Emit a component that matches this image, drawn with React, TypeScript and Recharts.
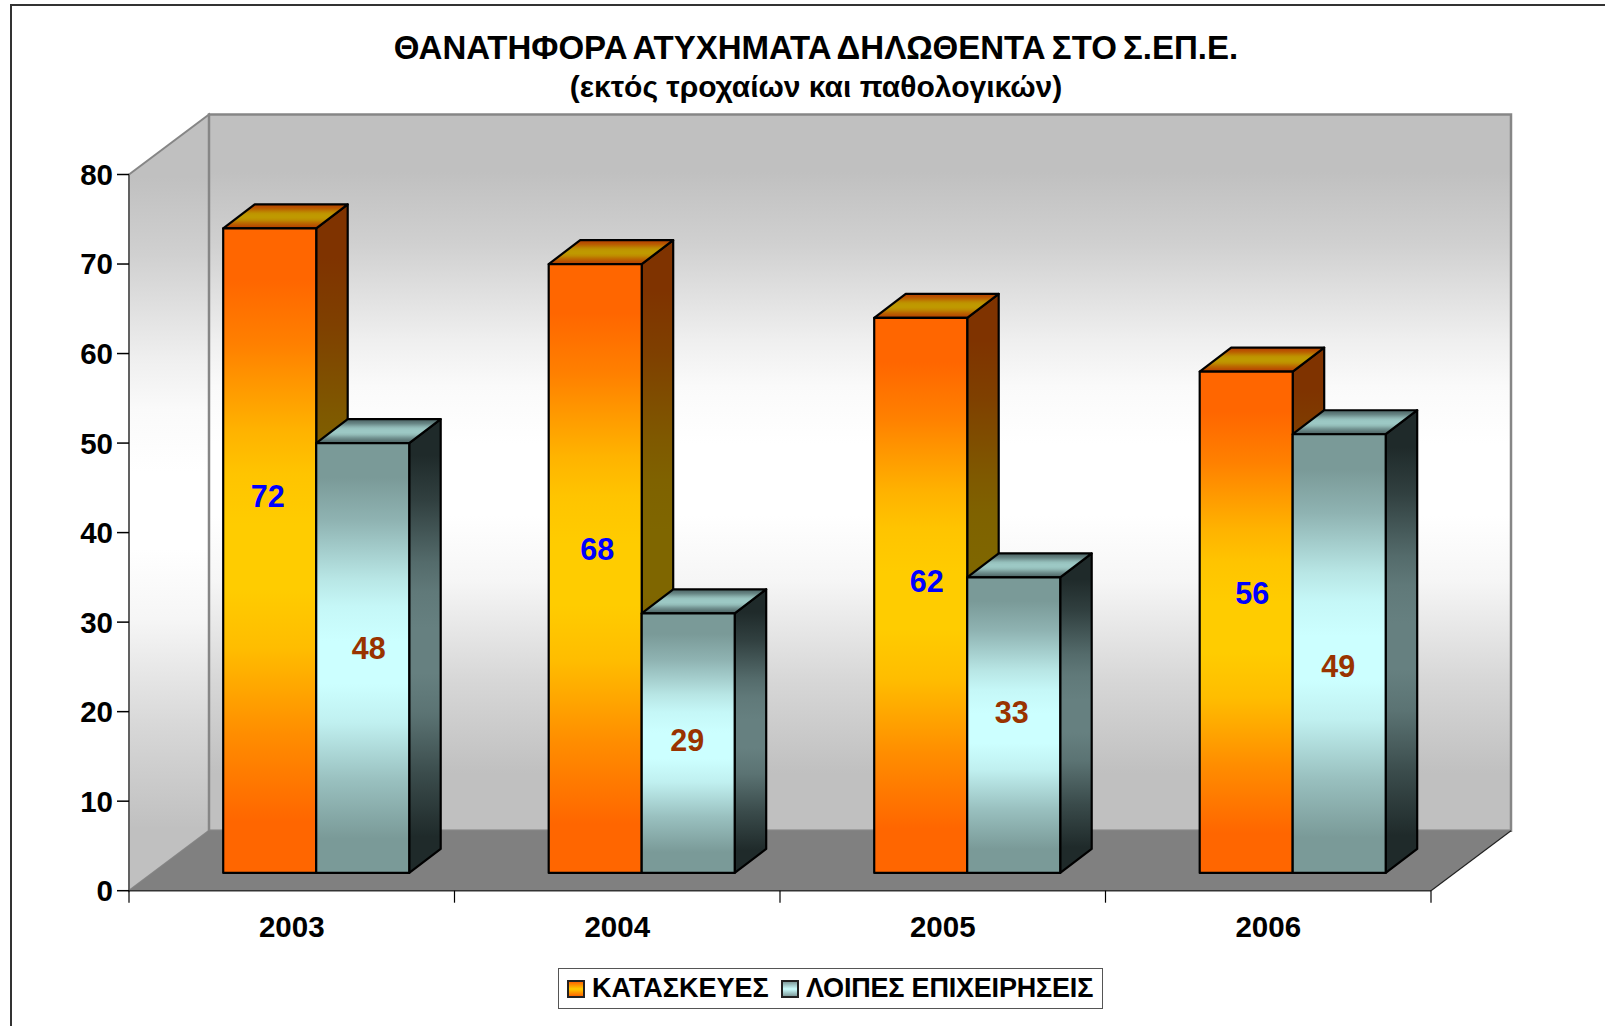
import { BarChart, Bar, XAxis, YAxis, Legend, LabelList, ReferenceArea } from "recharts";

const YEARS = ["2003", "2004", "2005", "2006"];
const CONSTRUCTION = [72, 68, 62, 56];
const OTHER_BUSINESS = [48, 29, 33, 49];
const Y_TICKS = [0, 10, 20, 30, 40, 50, 60, 70, 80];

const CONSTRUCTION_NAME = "ΚΑΤΑΣΚΕΥΕΣ";
const OTHER_NAME = "ΛΟΙΠΕΣ ΕΠΙΧΕΙΡΗΣΕΙΣ";
const TITLE = "ΘΑΝΑΤΗΦΟΡΑ ΑΤΥΧΗΜΑΤΑ ΔΗΛΩΘΕΝΤΑ ΣΤΟ Σ.ΕΠ.Ε.";
const SUBTITLE = "(εκτός τροχαίων και παθολογικών)";

const chartData = YEARS.map((year, i) => ({
  year,
  construction: CONSTRUCTION[i],
  other: OTHER_BUSINESS[i],
}));

const FONT = '"Liberation Sans", Arial, sans-serif';
const WIDTH = 1605;
const HEIGHT = 1026;
const PLOT = { left: 129, right: 1431, top: 174.5, bottom: 890.7 };
const X_AXIS_HEIGHT = 60;
const LEGEND_HEIGHT = 41;

// fake 3d: how far the walls and the boxes go back
const WALL_DX = 80;
const WALL_DY = 60;
const BOX_DX = 31.5;
const BOX_DY = 24;
// front of the boxes sits a bit inside the floor
const BAR_SHIFT_X = 24.2;
const BAR_SHIFT_Y = 17.8;

// the value labels were moved by hand in the original, offsets from the box centre
const LABEL_NUDGE_A = [[-2, -55], [2, -20], [6, -14], [6, -29]];
const LABEL_NUDGE_B = [[6, -10], [-1, -3], [-2, -13], [-1, 12]];

// gradient shape: [offset, how far towards the mid colour]
const GRADIENT_SHAPE = [
  [0, 0], [0.08, 0], [0.18, 0.25], [0.315, 0.75], [0.38, 0.92], [0.46, 1],
  [0.56, 1], [0.65, 0.85], [0.785, 0.38], [0.92, 0], [1, 0],
];

function mixHex(a: string, b: string, t: number) {
  const out = [1, 3, 5].map((p) => {
    const ca = parseInt(a.slice(p, p + 2), 16);
    const cb = parseInt(b.slice(p, p + 2), 16);
    return Math.round(ca + (cb - ca) * t);
  });
  return `rgb(${out.join(",")})`;
}

function Walls({ x, y, width, height }: any) {
  const right = x + width;
  const bottom = y + height;
  return (
    <g>
      <polygon
        points={`${x},${y} ${x + WALL_DX},${y - WALL_DY} ${x + WALL_DX},${bottom - WALL_DY} ${x},${bottom}`}
        fill="url(#wallSide)"
        stroke="#868686"
        strokeWidth={2}
      />
      <rect
        x={x + WALL_DX}
        y={y - WALL_DY}
        width={width}
        height={height}
        fill="url(#wallBack)"
        stroke="#868686"
        strokeWidth={2.5}
      />
      <polygon
        points={`${x},${bottom} ${x + WALL_DX},${bottom - WALL_DY} ${right + WALL_DX},${bottom - WALL_DY} ${right},${bottom}`}
        fill="#808080"
      />
      <line x1={x} y1={y} x2={x} y2={bottom} stroke="#555" strokeWidth={1.5} />
      <line x1={x} y1={bottom} x2={right} y2={bottom} stroke="#333" strokeWidth={1.5} />
      <line x1={right} y1={bottom} x2={right + WALL_DX} y2={bottom - WALL_DY} stroke="#222" strokeWidth={1.2} />
      {[0, 1, 2, 3, 4].map((i) => (
        <line
          key={i}
          x1={x + (width * i) / 4}
          y1={bottom}
          x2={x + (width * i) / 4}
          y2={bottom + 12}
          stroke="#000"
          strokeWidth={1.2}
        />
      ))}
    </g>
  );
}

function box3d(ids: string[]) {
  return function Box(props: any) {
    const x = props.x + BAR_SHIFT_X;
    const y = props.y - BAR_SHIFT_Y;
    const w = props.width;
    const h = props.height;
    const line = { stroke: "#000", strokeWidth: 2.2, strokeLinejoin: "round" as const };
    return (
      <g>
        <polygon
          points={`${x + w},${y} ${x + w + BOX_DX},${y - BOX_DY} ${x + w + BOX_DX},${y + h - BOX_DY} ${x + w},${y + h}`}
          fill={`url(#${ids[1]})`}
          {...line}
        />
        <polygon
          points={`${x},${y} ${x + BOX_DX},${y - BOX_DY} ${x + w + BOX_DX},${y - BOX_DY} ${x + w},${y}`}
          fill={`url(#${ids[2]})`}
          {...line}
        />
        <rect x={x} y={y} width={w} height={h} fill={`url(#${ids[0]})`} {...line} />
      </g>
    );
  };
}

function valueLabel(color: string, nudge: number[][]) {
  return function ValueLabel(props: any) {
    const { x, y, width, height, value, index } = props;
    const [dx, dy] = nudge[index];
    return (
      <text
        x={x + width / 2 + BAR_SHIFT_X + dx}
        y={y + height / 2 - BAR_SHIFT_Y + dy}
        textAnchor="middle"
        dominantBaseline="central"
        fill={color}
        fontFamily={FONT}
        fontWeight="bold"
        fontSize={30.5}
      >
        {value}
      </text>
    );
  };
}

function Swatch({ from, mid, left }: { from: string; mid: string; left: number }) {
  return (
    <span
      style={{
        position: "absolute",
        display: "block",
        left,
        top: 10.5,
        boxSizing: "border-box",
        width: 18,
        height: 18,
        border: "2px solid #222",
        background: `linear-gradient(${from}, ${mid} 50%, ${from})`,
      }}
    />
  );
}

function LegendBox() {
  return (
    <div
      style={{
        boxSizing: "border-box",
        width: 545,
        height: LEGEND_HEIGHT,
        border: "1.5px solid #555",
        background: "#fff",
        position: "relative",
        fontFamily: FONT,
        fontWeight: "bold",
        fontSize: 27,
        lineHeight: "38px",
        color: "#000",
        whiteSpace: "nowrap",
      }}
    >
      <Swatch from="#FF6600" mid="#FFCC00" left={7.5} />
      <span style={{ position: "absolute", left: 33, top: 0 }}>{CONSTRUCTION_NAME}</span>
      <Swatch from="#7F9C9C" mid="#CCFFFF" left={222} />
      <span style={{ position: "absolute", left: 247, top: 0, letterSpacing: -0.2 }}>{OTHER_NAME}</span>
    </div>
  );
}

const OrangeBox = box3d(["orangeFront", "orangeSide", "orangeTop"]);
const TealBox = box3d(["tealFront", "tealSide", "tealTop"]);
const OrangeLabel = valueLabel("#0000FF", LABEL_NUDGE_A);
const TealLabel = valueLabel("#993300", LABEL_NUDGE_B);

function vGrad(id: string, end: string, mid: string) {
  return (
    <linearGradient id={id} x1="0" y1="0" x2="0" y2="1">
      {GRADIENT_SHAPE.map(([offset, t], i) => (
        <stop key={i} offset={offset} stopColor={mixHex(end, mid, t)} />
      ))}
    </linearGradient>
  );
}

export default function App() {
  const tickStyle = { fontFamily: FONT, fontWeight: "bold", fontSize: 29.5, fill: "#000" };
  return (
    <div style={{ position: "absolute", left: 0, top: 0, width: WIDTH, height: HEIGHT, background: "#fff", overflow: "hidden" }}>
      <div
        style={{
          position: "absolute",
          left: 10,
          top: 4,
          width: WIDTH,
          height: HEIGHT,
          borderLeft: "2px solid #333",
          borderTop: "2px solid #333",
        }}
      />
      <div
        style={{
          position: "absolute",
          left: 0,
          width: 1632,
          top: 28,
          textAlign: "center",
          fontFamily: FONT,
          fontWeight: "bold",
          fontSize: 33,
          wordSpacing: -3,
          lineHeight: "39px",
          color: "#000",
        }}
      >
        <div style={{ whiteSpace: "nowrap" }}>{TITLE}</div>
        <div style={{ whiteSpace: "nowrap", fontSize: 30, wordSpacing: 0 }}>{SUBTITLE}</div>
      </div>
      <BarChart
        width={WIDTH}
        height={HEIGHT}
        data={chartData}
        barSize={93}
        barGap={0}
        margin={{
          top: PLOT.top,
          left: 0,
          right: WIDTH - PLOT.right,
          bottom: HEIGHT - PLOT.bottom - X_AXIS_HEIGHT - LEGEND_HEIGHT,
        }}
        style={{ position: "absolute", left: 0, top: 0 }}
      >
        <defs>
          {vGrad("wallBack", "#C0C0C0", "#FFFFFF")}
          {vGrad("wallSide", "#C0C0C0", "#FFFFFF")}
          {vGrad("orangeFront", "#FF6600", "#FFCC00")}
          {vGrad("orangeSide", "#7F3300", "#7F6600")}
          {vGrad("orangeTop", "#B84A00", "#BF9900")}
          {vGrad("tealFront", "#7A9A98", "#CCFFFF")}
          {vGrad("tealSide", "#1F2A2A", "#668080")}
          {vGrad("tealTop", "#567070", "#9CC8C4")}
        </defs>
        <ReferenceArea y1={0} y2={80} shape={<Walls />} ifOverflow="visible" />
        <XAxis
          dataKey="year"
          height={X_AXIS_HEIGHT}
          tickSize={12}
          tickMargin={13}
          tick={tickStyle}
          axisLine={false}
          tickLine={false}
          interval={0}
        />
        <YAxis
          domain={[0, 80]}
          ticks={Y_TICKS}
          width={PLOT.left}
          tickSize={12}
          tickMargin={4}
          tick={tickStyle}
          axisLine={false}
          tickLine={{ stroke: "#000", strokeWidth: 1.5 }}
          interval={0}
        />
        <Bar dataKey="construction" name={CONSTRUCTION_NAME} shape={OrangeBox} isAnimationActive={false}>
          <LabelList dataKey="construction" content={OrangeLabel} />
        </Bar>
        <Bar dataKey="other" name={OTHER_NAME} shape={TealBox} isAnimationActive={false}>
          <LabelList dataKey="other" content={TealLabel} />
        </Bar>
        <Legend content={<LegendBox />} wrapperStyle={{ left: 558, top: 968, width: 545, bottom: "auto" }} />
      </BarChart>
    </div>
  );
}
